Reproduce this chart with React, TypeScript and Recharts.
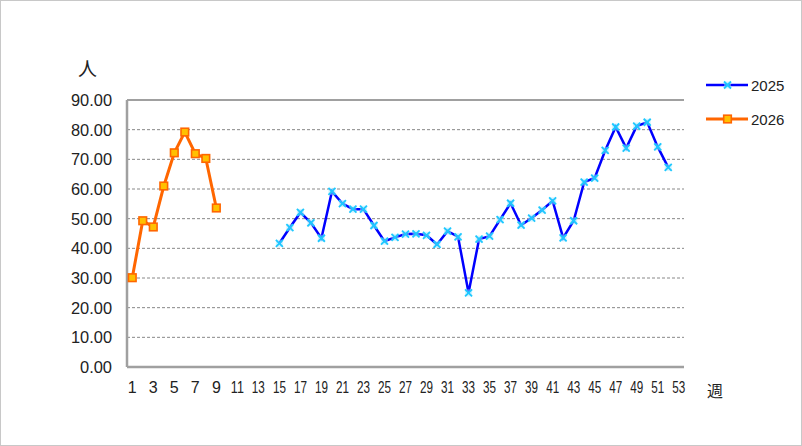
import React from "react";
import { LineChart, Line, XAxis, YAxis, CartesianGrid, ReferenceLine } from "recharts";

const weeks: number[] = Array.from({ length: 53 }, (_, i) => i + 1);

const values2026: (number | null)[] = [30.1, 49.3, 47.2, 61.0, 72.2, 79.2, 71.9, 70.3, 53.6];

const values2025: (number | null)[] = [
  null, null, null, null, null, null, null, null, null, null, null, null, null, null,
  41.7, 47.0, 52.1, 48.6, 43.4, 59.2, 55.1, 53.2, 53.2, 47.7,
  42.4, 43.7, 44.8, 44.9, 44.4, 41.3, 45.8, 43.9, 25.0, 43.1,
  44.1, 49.7, 55.2, 47.8, 50.2, 52.9, 56.0, 43.5, 49.3, 62.3,
  63.7, 73.0, 80.9, 73.8, 81.2, 82.5, 74.2, 67.3, null,
];

const yTicks: number[] = [0, 10, 20, 30, 40, 50, 60, 70, 80, 90];

const seriesNames = ["2025", "2026"];
const yUnit = "人";
const xUnit = "週";

const data = weeks.map((w, i) => ({
  week: w,
  s2025: values2025[i] ?? null,
  s2026: i < values2026.length ? values2026[i] : null,
}));

const FONT = "'Liberation Sans', 'DejaVu Sans', sans-serif";
const BLUE = "#0000FF";
const CYAN = "#1EC8FF";
const ORANGE = "#FF6600";
const GOLD = "#FFC000";

const XMarker = (props: any) => {
  const { cx, cy } = props;
  if (cx == null || cy == null || props.value == null) return null;
  const r = 3.5;
  return (
    <g>
      <rect x={cx - r} y={cy - r} width={2 * r} height={2 * r} fill="#9FE8FF" fillOpacity={0.5} />
      <line x1={cx - r} y1={cy - r} x2={cx + r} y2={cy + r} stroke={CYAN} strokeWidth={1.8} />
      <line x1={cx - r} y1={cy + r} x2={cx + r} y2={cy - r} stroke={CYAN} strokeWidth={1.8} />
    </g>
  );
};

const SqMarker = (props: any) => {
  const { cx, cy } = props;
  if (cx == null || cy == null || props.value == null) return null;
  const r = 3.8;
  return <rect x={cx - r} y={cy - r} width={2 * r} height={2 * r} fill={GOLD} stroke={ORANGE} strokeWidth={1.6} />;
};

const XTick = (props: any) => {
  const { x, payload } = props;
  const label = String(payload.value);
  const extra: any = label.length > 1 ? { textLength: 13, lengthAdjust: "spacingAndGlyphs" } : {};
  return (
    <text x={x} y={393} textAnchor="middle" fontFamily={FONT} fontSize={16} fill="#222" {...extra}>
      {label}
    </text>
  );
};

const YTick = (props: any) => {
  const { y, payload } = props;
  const label = Number(payload.value).toFixed(2);
  const len = label.length === 5 ? 41 : 32;
  return (
    <text x={112} y={y} dy={6} textAnchor="end" fontFamily={FONT} fontSize={17} fill="#222" textLength={len} lengthAdjust="spacingAndGlyphs">
      {label}
    </text>
  );
};

const LegendBox = () => (
  <div style={{ position: "absolute", left: 705, top: 67, fontFamily: FONT, fontSize: 15, color: "#222" }}>
    {seriesNames.map((name, i) => (
      <div key={name} style={{ display: "flex", alignItems: "center", height: 34 }}>
        <svg width={46} height={14} style={{ display: "block" }}>
          <line x1={0} y1={7} x2={42} y2={7} stroke={i === 0 ? BLUE : ORANGE} strokeWidth={i === 0 ? 2.5 : 3} />
          {i === 0 ? <XMarker cx={21.5} cy={7} value={1} /> : <SqMarker cx={21.5} cy={7} value={1} />}
        </svg>
        <span style={{ marginLeft: -1 }}>{name}</span>
      </div>
    ))}
  </div>
);

export default function App() {
  return (
    <div
      style={{
        position: "absolute",
        left: 0,
        top: 0,
        width: 802,
        height: 446,
        boxSizing: "border-box",
        border: "1px solid #C8C8C8",
        background: "#fff",
      }}
    >
      <div style={{ position: "absolute", left: -1, top: -1 }}>
        <LineChart width={802} height={446} data={data} margin={{ top: 100, right: 118, left: 0, bottom: 49 }}>
          <CartesianGrid vertical={false} stroke="#888" strokeDasharray="3 2" />
          <XAxis
            dataKey="week"
            interval={1}
            height={30}
            tickLine={false}
            axisLine={{ stroke: "#A0A0A0", strokeWidth: 2.5 }}
            tick={<XTick />}
            padding={{ left: 5.26, right: 5.26 }}
          />
          <YAxis
            domain={[0, 90]}
            ticks={yTicks}
            interval={0}
            width={127}
            tickLine={false}
            axisLine={{ stroke: "#A0A0A0", strokeWidth: 2.5 }}
            tick={<YTick />}
          />
          <YAxis yAxisId="right" orientation="right" domain={[0, 90]} width={0} tick={false} tickLine={false} axisLine={{ stroke: "#A0A0A0", strokeWidth: 2 }} />
          <ReferenceLine y={90} stroke="#A0A0A0" strokeWidth={2} />
          <Line
            dataKey="s2025"
            name="2025"
            stroke={BLUE}
            strokeWidth={2.5}
            dot={<XMarker />}
            activeDot={false}
            isAnimationActive={false}
            connectNulls={false}
          />
          <Line
            dataKey="s2026"
            name="2026"
            stroke={ORANGE}
            strokeWidth={3}
            dot={<SqMarker />}
            activeDot={false}
            isAnimationActive={false}
            connectNulls={false}
          />
        </LineChart>
      </div>
      <LegendBox />
      <div style={{ position: "absolute", left: 77, top: 53, fontFamily: "'Noto Sans CJK JP', sans-serif", fontSize: 19, color: "#222" }}>
        {yUnit}
      </div>
      <div style={{ position: "absolute", left: 706, top: 377, fontFamily: "'Noto Sans CJK JP', sans-serif", fontSize: 16, color: "#222" }}>
        {xUnit}
      </div>
    </div>
  );
}
